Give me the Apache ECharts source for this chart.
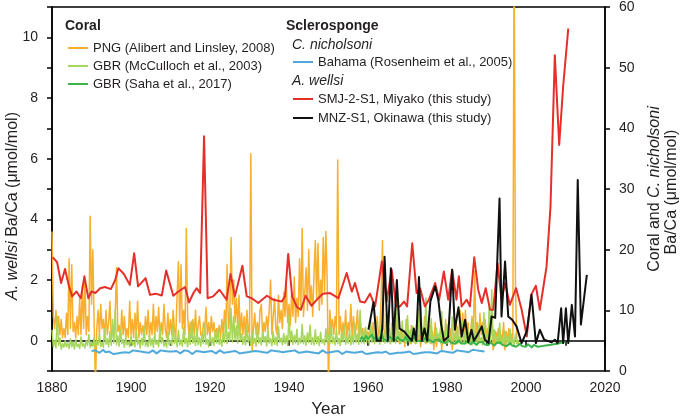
<!DOCTYPE html>
<html>
<head>
<meta charset="utf-8">
<script src="https://cdn.jsdelivr.net/npm/echarts@6/dist/echarts.min.js"></script>
<style>
html,body{margin:0;padding:0;background:#fff;}
#chart{width:685px;height:419px;}
</style>
</head>
<body>
<div id="chart"></div>
<script>
// ---------- DATA ----------
const X_TICKS = [1880, 1900, 1920, 1940, 1960, 1980, 2000, 2020];

// PNG coral (Alibert and Linsley, 2008) — right axis, 3 samples / year from 1880
const PNG_START = 1880, PNG_PER_YEAR = 3;
const pngVals = [
23,9,7, 10,6.5,9, 6,8.5,5.5, 7,5.5,9.5, 6,18.5,7, 17.5,6.5,8, 5.5,9,6, 12,6,14, 7,15,6, 9,6.5,25.5,
11,20,8, -3,7,10, 6,11,7, 8.5,5.5,10, 6,8,11.5, 5.5,7,6, 9,17,6.5, 7.5,5.5,10, 6,9,5.5, 7,5.5,11.5,
6,8.5,5.5, 9.5,6,11.5, 5.5,8,6, 7.5,5.5,9, 6,10,5.5, 8,6,11, 5.5,9,6.5, 10.5,5.5,8, 6,11,7, 5.5,9.5,6,
8.5,6,10, 7,5.5,12.5, 18,8,17.5, 7,10,6, 23.5,9,6, 8,5.5,8.5, 6,10,5.5, 7.5,9,6, 5.5,8,7, 10.5,6,8,
5.5,9,6.5, 8,5.5,7, 6,7.5,5.5, 8.5,6,10, 6.5,17.5,7, 9,22,11, 15,8,12, 7,12.5,6, 9.5,6,9, 5.5,10,7,
6,35.8,3.2, 7,9.5,6, 8,6,10, 11,5.5,8, 6.5,9,7, 10,15,6, 9,12,7, 6,12.5,8, 10,7,13, 9,14,8,
11,7.5,13, 9,15.5,8, 12,9,18.5, 10,23.5,9, 13,17,10, 20,11,14, 9,16,21.5, 12,21,10, 15,11,22, 13,23,15,
-3,10,7, 8.5,6,9, 7,34.8,6, 9,5.5,8, 6,10,5.5, 8,6.5,11, 5.5,9,6, 7,10,5.5, 8.5,6,7, 5.5,7,6,
6.5,5,7.5, 5.5,8,5, 6.5,9,5.5, 7,12,21.5, 7,5.5,8, 5,7,4.5, 6.5,5,8, 5.5,9.5,5, 4.5,7,5.5, 6,4,8.5,
5,6.5,4.5, 7.5,5,6, 4.5,8,5, 6,4,7, 5.5,9,4.5, 6,5,7.5, 4.5,6.5,3.5, 8,4,6, 5,7,3.5, 6.5,5,8.5,
4.5,6,5, 7,3.5,6, 5.5,8,4.5, 6,10,5, 9.5,5.5,10, 5,8,4.5, 6.5,9,5.5, 16.5,6,8, 5,9.5,6, 8,5,8.5,
5.5,7,4.5, 6,8.5,3.5, 4.5,6.5,5.5, 7,4.5,6, 5,8,3.5, 6.5,5,7, 4.5,6,5.5, 70,13.5,5, 4.5
];

// GBR coral (McCulloch et al., 2003) — right axis, 3 samples / year from 1880
const MCC_START = 1880, MCC_PER_YEAR = 3;
const mccVals = [
6.8,4,5, 3.8,9,4.2, 5.5,3.6,4.5, 3.9,5,4, 4.6,3.7,5.3, 4,4.8,3.6, 5.2,4,4.4, 3.7,5.6,4.1, 4.5,3.8,5, 4.2,6,3.9,
4.8,4.1,5.5, 3.8,5,4.3, 6.2,4,4.7, 3.9,7,4.4, 5.3,4,6.5, 4.2,8.5,4.6, 10,4.3,5.8, 4.1,6.8,4.5, 5.2,3.9,5.6, 4.3,4.8,4,
5.8,4.2,4.9, 4,6.5,4.4, 5.1,3.8,5.4, 4.3,7.3,4.1, 4.8,4,5.9, 4.2,5.3,3.9, 6.1,4.4,5, 4,7.2,4.6, 5.5,4.1,4.8, 3.9,6.4,4.3,
5,4.2,7.6, 4.5,5.6,4, 6.7,4.3,5.1, 4.1,7.1,4.5, 5.4,4,6.2, 4.4,8.2,4.6, 5.8,4.2,6.9, 4.3,5.5,4.1, 6.3,4.5,7.8, 4.4,5.2,4,
6.1,4.3,5.5, 4.2,6.8,4.6, 7,4.4,5.3, 4.1,6.2,4.7, 8.6,4.5,6.4, 5,10.3,4.8, 9,5.1,7.4, 4.6,8.3,5, 6.1,4.4,5.7, 4.3,7.5,4.7,
5.9,4.2,6.6, 4.5,5.4,4.1, 7.2,4.6,5.5, 4.3,6.4,4.8, 5.7,4.1,7, 4.6,5.3,4.2, 6.5,4.4,5.6, 4.2,7.3,4.7, 5.4,4.3,6.2, 4.5,5.8,4.2,
9.3,4.8,6.6, 4.4,5.9,4.6, 6.9,4.3,5.4, 4.6,7.7,4.5, 5.8,4.2,6.3, 4.7,7.6,4.4, 5.5,4.3,6.8, 4.5,5.7,4.2, 6.4,4.6,5.2, 4.3,7,4.7,
5.9,4.4,7.8, 4.6,5.6,4.3, 6.9,4.5,5.4, 4.2,6.3,4.8, 7.4,4.4,5.5, 4.6,6.7,4.3, 5.8,4.5,7.9, 4.7,6.1,4.4, 10,4.6,6.4, 4.5,7.2,4.8,
5.9,4.4,8.5, 4.7,6.6,4.5, 8.1,4.8,5.7, 4.4,7.5,4.9, 6.2,4.6,9.4, 4.7,6.8,4.5, 7.9,4.8,5.9, 4.6,11.7,5, 6.5,4.5,8.2, 4.8,6,4.6,
9.1,4.9,6.7, 4.5,7.4,4.8, 6.3,4.6,10.2, 4.9,13,5.1, 7.2,4.7,12, 5,6.4,4.6, 8.6,4.8,5.8, 4.5,7.1,4.9, 6.2,4.6,9.8, 4.8,6.5,4.5,
7.7,4.7,5.6, 4.4,8.9,4.8, 6.1,4.5,7.3, 4.7,5.7,4.4, 8.2,4.8,6.4, 4.5,7,4.6, 5.9,4.3,8.8, 4.6,6.3,4.4, 7.5,4.7,5.5, 4.3,9.6,4.8,
6,4.5,10.5, 4.7,13.4,4.9, 6.8,4.4,5.6, 4.6,7.9,4.5, 5.3,4.3,6.6, 4.5,5.8,4.2, 6.9,4.4,5.4, 4.3,6.1,4.5, 5,4.2
];

// GBR coral (Saha et al., 2017) — right axis, 2 samples / year from 1958
const SAHA_START = 1958, SAHA_PER_YEAR = 2;
const sahaVals = [
5.2,5.6,5.0,5.8,5.3,5.5,6.0,5.2,5.6,5.1,
5.5,5.9,5.2,5.4,5.0,5.7,5.3,5.5,5.1,5.6,
5.2,5.4,5.0,5.6,5.1,5.3,4.9,5.5,5.2,5.0,
5.3,4.9,5.1,5.4,4.8,5.2,5.0,4.7,5.1,4.9,
5.2,4.8,5.0,4.6,4.9,5.1,4.7,4.9,4.5,4.8,
5.0,4.6,4.8,4.5,4.9,4.7,4.4,4.8,4.6,4.3,
4.7,4.5,4.8,4.4,4.6,4.3,4.7,4.5,4.2,4.6,
4.4,4.7,4.3,4.5,4.1,4.4,4.6,4.2,4.4,4.0,
4.3,4.5,4.1,4.3,4.0,4.4,4.2,3.9,4.3,4.1,
4.0,4.3,4.1,3.9,4.2,4.0,4.3,4.1,4.4,4.2,
4.5,4.3,4.7,4.4,4.8
];

// C. nicholsoni, Bahama (Rosenheim et al., 2005) — right axis, 2 samples / year from 1890
const BAH_START = 1890, BAH_PER_YEAR = 2;
const bahVals = [
3.3,3.1,3.4,3.2,3.0,3.3,3.5,3.1,2.9,3.2, 3.0,2.8,3.1,2.9,3.2,3.0,2.8,3.1,3.3,3.0,
3.2,3.4,3.1,3.3,3.0,3.2,3.5,3.1,3.3,3.0, 3.2,3.4,3.1,2.9,3.2,3.4,3.1,3.3,3.0,3.2,
3.4,3.2,3.0,3.3,3.1,2.9,3.2,3.4,3.1,3.3, 3.0,2.8,3.1,3.3,3.0,3.2,2.9,3.1,3.4,3.2,
3.0,3.3,3.1,2.9,3.2,3.4,3.1,3.0,3.3,3.1, 2.9,3.2,3.0,3.3,3.1,2.9,3.2,3.0,3.3,3.1,
3.4,3.2,3.0,3.3,3.1,3.2,2.9,3.1,3.3,3.0, 3.2,3.4,3.1,3.3,3.0,3.2,3.4,3.1,2.9,3.2,
3.0,3.3,3.1,3.4,3.2,3.0,3.3,3.1,2.9,3.2, 3.4,3.1,3.3,3.0,3.2,2.9,3.1,3.4,3.2,3.0,
3.3,3.1,2.9,3.2,3.0,3.3,3.1,2.8,3.0,3.2, 2.9,3.1,3.3,3.0,2.8,3.1,2.9,3.2,3.0,2.8,
3.1,2.9,3.2,3.0,2.8,3.1,3.3,3.0,2.9,3.2, 3.0,2.8,3.1,2.9,3.2,3.0,2.7,3.0,2.9,3.1,
2.9,3.2,3.0,2.8,3.1,2.9,3.2,3.0,3.3,3.1, 2.9,3.1,3.3,3.0,3.2,2.9,3.1,3.3,3.0,3.2,
3.4,3.1,3.3,3.0,3.2,3.4,3.1,3.3,3.5,3.2, 3.4,3.1,3.3,3.5,3.2,3.4,3.1,3.3,3.5,3.2
];

// A. wellsi SMJ-2-S1, Miyako (this study) — left axis
const smjYears = [1880.2,1881.3,1882.3,1883.3,1884.3,1885.1,1886.2,1887.3,1888.2,1889.2,1890.0,1891.0,1892.2,1893.4,1894.9,1896.0,1896.8,1898.2,1899.7,1900.8,1901.8,1903.7,1904.8,1906.2,1907.8,1908.9,1910.7,1912.0,1913.7,1914.7,1915.8,1916.6,1917.5,1918.5,1919.4,1920.8,1922.4,1924.2,1925.2,1926.3,1928.2,1929.3,1930.6,1932.2,1934.4,1936.0,1938.2,1939.0,1939.8,1940.8,1942.0,1943.0,1944.2,1945.7,1947.4,1948.6,1950.4,1952.5,1954.6,1955.9,1956.7,1958.0,1959.2,1960.5,1961.8,1963.5,1964.7,1966.0,1967.1,1968.1,1969.1,1969.9,1971.2,1972.3,1973.2,1974.4,1975.4,1977.0,1978.0,1979.2,1980.3,1981.3,1982.4,1983.0,1983.7,1985.0,1985.8,1986.9,1987.9,1988.8,1989.8,1990.9,1991.7,1992.8,1993.8,1994.7,1995.9,1997.5,1998.9,2000.2,2001.3,2002.5,2003.5,2005.2,2006.2,2007.3,2008.4,2009.4,2010.7];
const smjVals  = [2.75,2.58,1.90,2.36,1.79,1.46,1.62,1.40,2.12,1.40,1.62,1.57,1.73,1.77,1.70,2.00,2.39,2.20,1.84,2.88,1.79,2.06,1.51,1.55,1.49,2.31,1.48,1.62,1.77,1.26,1.57,1.73,1.57,6.74,1.40,1.46,1.68,1.35,2.20,1.46,2.47,1.46,1.40,1.24,1.48,1.35,1.29,1.46,2.86,1.46,1.11,1.02,1.48,1.15,1.40,1.55,1.57,1.40,2.23,1.62,1.90,1.29,1.26,1.55,1.13,2.61,1.29,2.34,1.13,1.13,1.29,1.13,3.21,1.57,1.73,1.13,1.35,1.90,1.35,2.28,1.35,2.34,1.35,2.12,1.13,1.35,1.13,2.75,1.68,1.24,1.73,1.02,1.02,2.55,1.35,1.90,1.18,1.73,1.02,0.14,1.51,1.81,1.02,2.44,4.42,9.41,6.45,8.37,10.29];

// A. wellsi MNZ-S1, Okinawa (this study) — left axis
const mnzYears = [1960.1,1961.4,1962.2,1963.2,1963.6,1964.2,1965.0,1965.8,1966.5,1967.3,1968.0,1969.2,1970.4,1971.1,1971.6,1972.2,1972.9,1973.6,1974.3,1975.0,1975.8,1977.0,1977.8,1978.5,1979.2,1980.3,1981.3,1982.0,1982.9,1983.7,1984.6,1985.4,1986.2,1986.8,1987.5,1988.8,1989.6,1990.5,1991.3,1992.2,1993.3,1993.8,1994.7,1995.5,1996.5,1997.6,1998.9,2000.2,2001.4,2002.5,2003.5,2004.6,2006.5,2007.3,2008.0,2008.9,2009.4,2010.1,2010.7,2011.6,2012.4,2013.1,2013.9,2015.4];
const mnzVals  = [0.36,1.27,0.00,0.00,0.40,2.77,0.00,2.39,0.00,2.00,0.40,0.30,0.10,0.00,0.40,0.00,2.10,0.00,0.40,0.00,1.30,1.79,1.35,0.55,0.00,0.12,2.34,0.36,1.10,0.14,0.69,-0.05,0.36,0.00,0.14,0.47,0.03,-0.08,0.80,0.75,4.69,0.80,2.61,0.80,0.69,0.47,-0.08,0.31,1.51,-0.08,0.36,0.03,-0.05,0.03,-0.08,1.07,-0.08,1.07,-0.08,1.18,0.14,5.30,0.53,2.17];

// ---------- NAMES / COLOURS ----------
const N_PNG = 'PNG (Alibert and Linsley, 2008)';
const N_MCC = 'GBR (McCulloch et al., 2003)';
const N_SAHA = 'GBR (Saha et al., 2017)';
const N_BAH = 'Bahama (Rosenheim et al., 2005)';
const N_SMJ = 'SMJ-2-S1, Miyako (this study)';
const N_MNZ = 'MNZ-S1, Okinawa (this study)';

const FONT = "'Liberation Sans', Arial, Helvetica, sans-serif";
const INK = '#231f20';

function regular(start, perYear, vals) {
  return vals.map((v, i) => [start + i / perYear, v]);
}
function paired(xs, ys) {
  return xs.map((x, i) => [x, ys[i]]);
}

const chart = echarts.init(document.getElementById('chart'), null, {renderer: 'canvas'});

function lineSeries(name, data, yAxisIndex, color, width, z) {
  return {
    name, type: 'line', data, yAxisIndex,
    showSymbol: false, symbol: 'none', clip: true,
    lineStyle: {color, width, join: 'round'},
    itemStyle: {color},
    z, animation: false
  };
}

const legendBase = {
  orient: 'vertical', icon: 'rect', itemWidth: 20, itemHeight: 2,
  selectedMode: false, padding: 0,
  textStyle: {fontSize: 13, fontFamily: FONT, color: INK, lineHeight: 14}
};

const option = {
  animation: false,
  backgroundColor: '#fff',
  grid: {left: 52, right: 80, top: 7, bottom: 48, show: true, borderColor: '#000', borderWidth: 1.5,
    containLabel: false, outerBoundsMode: 'none'},
  xAxis: {
    type: 'value', min: 1880, max: 2020, interval: 20,
    name: 'Year', nameLocation: 'middle', nameGap: 30,
    nameTextStyle: {fontSize: 17, fontFamily: FONT, color: INK},
    axisLine: {show: true, lineStyle: {color: '#000', width: 1.5}},
    axisTick: {show: true, inside: false, length: 5, lineStyle: {color: '#000', width: 1.5}},
    minorTick: {show: true, splitNumber: 2, length: 5, lineStyle: {color: '#000', width: 1.5}},
    axisLabel: {fontSize: 14, fontFamily: FONT, color: INK, margin: 10,
      formatter: v => X_TICKS.indexOf(v) >= 0 ? String(v) : ''},
    splitLine: {show: false}
  },
  yAxis: [
    {
      type: 'value', position: 'left', min: -1, max: 11, interval: 1,
      axisLine: {show: true, lineStyle: {color: '#000', width: 1.5}},
      axisTick: {show: true, length: 5, lineStyle: {color: '#000', width: 1.5}},
      axisLabel: {fontSize: 14, fontFamily: FONT, color: INK, margin: 14,
        formatter: v => (v >= 0 && v <= 10 && v % 2 === 0) ? String(v) : ''},
      splitLine: {show: false}
    },
    {
      type: 'value', position: 'right', min: 0, max: 60, interval: 10,
      axisLine: {show: true, lineStyle: {color: '#000', width: 1.5}},
      axisTick: {show: true, length: 5, lineStyle: {color: '#000', width: 1.5}},
      axisLabel: {fontSize: 14, fontFamily: FONT, color: INK, margin: 14},
      splitLine: {show: false}
    }
  ],
  legend: [
    Object.assign({}, legendBase, {left: 68, top: 41, itemGap: 4, data: [N_PNG, N_MCC, N_SAHA]}),
    Object.assign({}, legendBase, {left: 293, top: 55, itemGap: 4, data: [N_BAH]}),
    Object.assign({}, legendBase, {left: 293, top: 92, itemGap: 5, data: [N_SMJ, N_MNZ]})
  ],
  graphic: [
    {type: 'text', left: 65, top: 19, style: {text: 'Coral', fontSize: 14, fontWeight: 'bold', fontFamily: FONT, fill: INK}},
    {type: 'text', left: 286, top: 19, style: {text: 'Sclerosponge', fontSize: 14, fontWeight: 'bold', fontFamily: FONT, fill: INK}},
    {type: 'text', left: 292, top: 38, style: {text: 'C. nicholsoni', fontSize: 14, fontStyle: 'italic', fontFamily: FONT, fill: INK}},
    {type: 'text', left: 292, top: 74, style: {text: 'A. wellsi', fontSize: 14, fontStyle: 'italic', fontFamily: FONT, fill: INK}},
    {type: 'text', x: 13, y: 206, rotation: Math.PI / 2,
      style: {text: '{i|A. wellsi} Ba/Ca (μmol/mol)', fontSize: 16, fontFamily: FONT, fill: INK,
        align: 'center', verticalAlign: 'middle',
        rich: {i: {fontStyle: 'italic', fontSize: 16, fontFamily: FONT, fill: INK}}}},
    {type: 'text', x: 655, y: 189, rotation: Math.PI / 2,
      style: {text: 'Coral and {i|C. nicholsoni}', fontSize: 16, fontFamily: FONT, fill: INK,
        align: 'center', verticalAlign: 'middle',
        rich: {i: {fontStyle: 'italic', fontSize: 16, fontFamily: FONT, fill: INK}}}},
    {type: 'text', x: 672, y: 192, rotation: Math.PI / 2,
      style: {text: 'Ba/Ca (μmol/mol)', fontSize: 16, fontFamily: FONT, fill: INK,
        align: 'center', verticalAlign: 'middle'}}
  ],
  series: [
    lineSeries(N_PNG, regular(PNG_START, PNG_PER_YEAR, pngVals), 1, '#F9AF2E', 1.5, 2),
    lineSeries(N_MCC, regular(MCC_START, MCC_PER_YEAR, mccVals), 1, '#A6D65A', 1.5, 3),
    lineSeries(N_BAH, regular(BAH_START, BAH_PER_YEAR, bahVals), 1, '#4FA9DB', 2, 4),
    lineSeries(N_SAHA, regular(SAHA_START, SAHA_PER_YEAR, sahaVals), 1, '#3BB54A', 2, 5),
    lineSeries(N_SMJ, paired(smjYears, smjVals), 0, '#E5302A', 2, 6),
    lineSeries(N_MNZ, paired(mnzYears, mnzVals), 0, '#111111', 2, 7)
  ]
};

chart.setOption(option);
</script>
</body>
</html>
